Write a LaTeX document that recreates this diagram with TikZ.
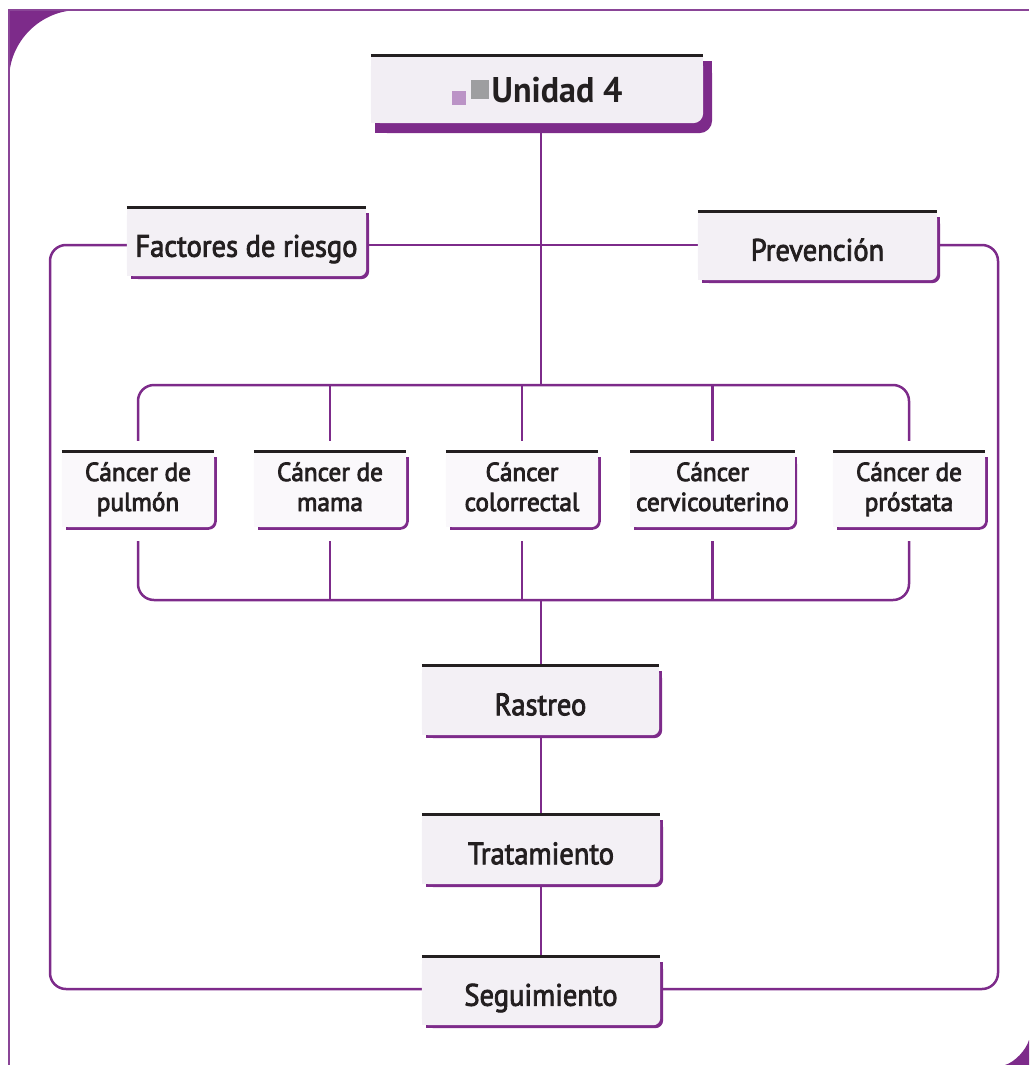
\documentclass[tikz,border=0pt]{standalone}
\usepackage{fontspec}
\setmainfont{PT Sans}
\newfontfamily\cardfont{PT Sans}[FakeStretch=0.92,FakeBold=2.6]
\newfontfamily\smallcardfont{PT Sans}[FakeStretch=0.97,FakeBold=3.2]
\newfontfamily\titlefont{PT Sans}[FakeStretch=0.955]

\definecolor{plum}{HTML}{7D2B8A}
\definecolor{framepurple}{HTML}{8A4597}
\definecolor{lav}{HTML}{F3F0F5}
\definecolor{lavtitle}{HTML}{F2EEF4}
\definecolor{lavlight}{HTML}{FAF8FB}
\definecolor{ink}{HTML}{231F20}
\definecolor{sqpurple}{HTML}{BB93C6}
\definecolor{sqgray}{HTML}{9E9EA0}

\pgfdeclarelayer{lines}
\pgfdeclarelayer{boxes}
\pgfsetlayers{lines,boxes,main}

% rectangle whose bottom-right corner alone is rounded
\newcommand\onecorner[4]{%
  \fill[#1,rounded corners=#4] (#2) rectangle (#3);
  \fill[#1] (#2) rectangle ([xshift=-#4]#3);
  \fill[#1] (#2) rectangle ([yshift=#4]#3);
}
% card behind a node: purple offset shadow, light fill, dark top rule
% #1 node, #2 fill colour, #3/#4 shadow overhang, #5 shadow radius, #6 fill radius, #7 rule width
\newcommand\cardframe[7]{%
  \begin{pgfonlayer}{boxes}
    \coordinate (#1-sa) at ([shift={(4,4)}]#1.north west);
    \coordinate (#1-sb) at ([shift={(#3,#4)}]#1.south east);
    \onecorner{plum}{#1-sa}{#1-sb}{#5}
    \onecorner{#2}{#1.north west}{#1.south east}{#6}
    \draw[ink,line width=#7] ([yshift=1.5pt]#1.north west) -- ([yshift=1.5pt]#1.north east);
  \end{pgfonlayer}
}

\begin{document}
\begin{tikzpicture}[x=1pt,y=-1pt,
  conn/.style={plum,line width=2.5pt},
  card/.style={inner sep=0pt,text=ink,
    font=\cardfont\fontsize{31}{31}\selectfont,
    text height=28.5pt,text depth=0pt},
  cancer/.style={inner sep=0pt,text=ink,align=center,
    font=\smallcardfont\fontsize{26}{30}\selectfont,
    text height=48pt,text depth=6pt,
    minimum height=74pt}]

\useasboundingbox (0,0) rectangle (1029,1065);

% page frame
\begin{pgfonlayer}{lines}
  \fill[plum] (9,10) -- (79,10) .. controls (40.4,10) and (9,41.4) .. (9,80) -- cycle;
  \fill[plum] (1029,1065) -- (1029,1040) .. controls (1026,1050) and (1015,1062) .. (1005,1065) -- cycle;
  \draw[framepurple,line width=2pt] (9,1065) -- (9,10) -- (1029,10);
\end{pgfonlayer}

% nodes
\node[inner sep=0pt,text=ink,minimum width=332pt,minimum height=66pt,
  font=\titlefont\bfseries\fontsize{35.7}{36}\selectfont,
  text height=25pt,text depth=0pt] (u4) at (537,90)
  {\textcolor{sqpurple}{\raisebox{-2pt}{\rule{14pt}{14pt}}}\hspace{5pt}%
   \textcolor{sqgray}{\raisebox{4pt}{\rule{18pt}{18pt}}}\hspace{3pt}Unidad 4};

\node[card,minimum width=239pt,minimum height=67pt] (fr) at (246.5,242.5) {Factores de riesgo};
\node[card,minimum width=239pt,minimum height=67pt] (pv) at (817.5,246.5) {Prevención};

\node[cancer,minimum width=152pt] (c1) at (138,490)   {Cáncer de\\pulmón};
\node[cancer,minimum width=152pt] (c2) at (330,490)   {Cáncer de\\mama};
\node[cancer,minimum width=152pt] (c3) at (522,490)   {Cáncer\\colorrectal};
\node[cancer,minimum width=164pt] (c4) at (712.5,490) {Cáncer\\cervicouterino};
\node[cancer,minimum width=152pt] (c5) at (909,490)   {Cáncer de\\próstata};

\node[card,minimum width=237pt,minimum height=68pt] (rs) at (540.5,701) {Rastreo};
\node[card,minimum width=238pt,minimum height=68pt] (tr) at (541,850)   {Tratamiento};
\node[card,minimum width=238pt,minimum height=67pt] (sg) at (541,991.5) {Seguimiento};

% card backgrounds
\cardframe{u4}{lavtitle}{9}{10}{13pt}{10pt}{3pt}
\cardframe{fr}{lav}{3}{3}{8pt}{7pt}{3pt}
\cardframe{pv}{lav}{3}{3}{8pt}{7pt}{3pt}
\foreach \c in {c1,c2,c3,c4,c5}{\cardframe{\c}{lavlight}{2.5}{2.5}{8pt}{7pt}{2.5pt}}
\cardframe{rs}{lav}{3}{3}{8pt}{7pt}{3pt}
\cardframe{tr}{lav}{3}{3}{8pt}{7pt}{3pt}
\cardframe{sg}{lav}{3}{3}{8pt}{7pt}{3pt}

% connectors
\coordinate (hy) at (541,245);
\coordinate (ub) at (541,385);
\coordinate (lb) at (541,600);
\coordinate (lx) at (50,989);
\coordinate (rx) at (998,989);

\begin{pgfonlayer}{lines}
  \draw[conn] (u4.south -| ub) -- (ub);
  \draw[conn] (fr.east |- hy) -- (pv.west |- hy);
  \draw[conn,rounded corners=16pt] (fr.west |- hy) -| (lx) -- (sg.west |- lx);
  \draw[conn,rounded corners=16pt] (pv.east |- hy) -| (rx) -- (sg.east |- rx);

  \draw[conn,rounded corners=16pt] ([yshift=12pt]c1.north) |- (ub) -| ([yshift=12pt]c5.north);
  \foreach \c in {c2,c3,c4}{\draw[conn] ([yshift=12pt]\c.north) -- (\c.north |- ub);}
  \draw[conn,rounded corners=16pt] ([yshift=-14pt]c1.south) |- (lb) -| ([yshift=-14pt]c5.south);
  \foreach \c in {c2,c3,c4}{\draw[conn] ([yshift=-14pt]\c.south) -- (\c.south |- lb);}

  \draw[conn] (lb) -- (rs.north -| lb);
  \draw[conn] (rs.south -| lb) -- (tr.north -| lb);
  \draw[conn] (tr.south -| lb) -- (sg.north -| lb);
\end{pgfonlayer}
\end{tikzpicture}
\end{document}
